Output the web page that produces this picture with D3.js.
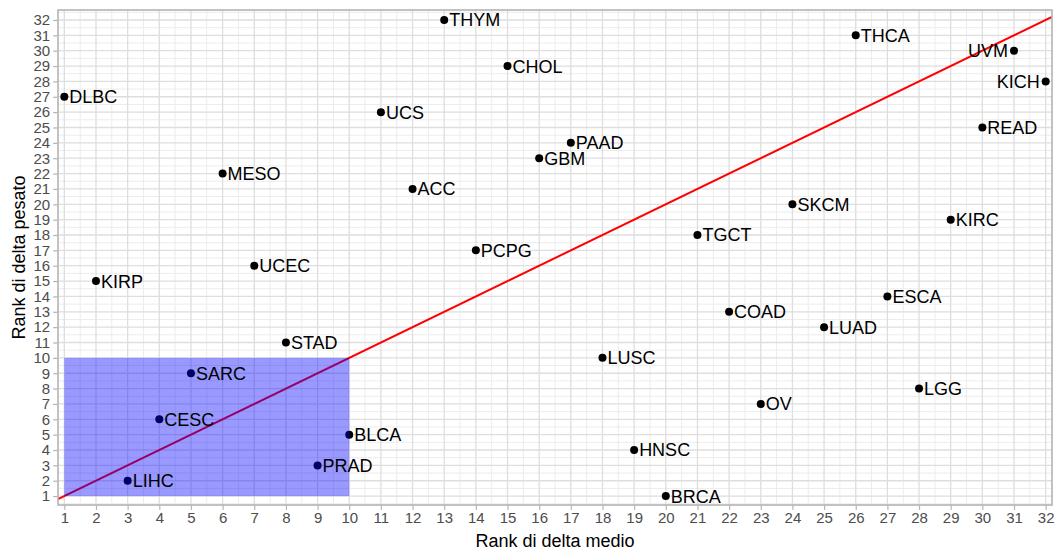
<!DOCTYPE html>
<html>
<head>
<meta charset="utf-8">
<script src="https://cdn.jsdelivr.net/npm/d3@7"></script>
<style>
  html, body { margin: 0; padding: 0; background: #fff; }
  svg { display: block; font-family: "Liberation Sans", Arial, Helvetica, sans-serif; }
</style>
</head>
<body>
<svg id="chart" width="1056" height="554"></svg>
<script>
// Tumour types ranked by mean delta (x) and weighted delta (y)
const tumours    = ["DLBC","KIRP","LIHC","CESC","SARC","MESO","UCEC","STAD","PRAD","BLCA",
                    "UCS","ACC","THYM","PCPG","CHOL","GBM","PAAD","LUSC","HNSC","BRCA",
                    "TGCT","COAD","OV","SKCM","LUAD","THCA","ESCA","LGG","KIRC","READ","UVM","KICH"];
const rankMedio  = [1,2,3,4,5,6,7,8,9,10,11,12,13,14,15,16,17,18,19,20,21,22,23,24,25,26,27,28,29,30,31,32];
const rankPesato = [27,15,2,6,9,22,16,11,3,5,26,21,32,17,29,23,24,10,4,1,18,13,7,20,12,31,14,8,19,25,30,28];
// Labels placed to the left of their point
const leftLabels = ["UVM","KICH"];
// Highlighted region (ranks 1..10 on both axes)
const boxX = [1, 10];
const boxY = [1, 10];
const ticks = d3.range(1, 33);

const svg = d3.select("#chart");
const panel = { left: 58, right: 1052, top: 10, bottom: 505 };

const x = d3.scaleLinear().domain([0.8, 32.2]).range([panel.left, panel.right]);
const y = d3.scaleLinear().domain([0.42, 32.65]).range([panel.bottom, panel.top]);

const g = svg.append("g");

// panel background
g.append("rect")
  .attr("x", panel.left).attr("y", panel.top)
  .attr("width", panel.right - panel.left).attr("height", panel.bottom - panel.top)
  .attr("fill", "#fff");

// minor grid (half steps)
const minor = d3.range(0.5, 33, 1);
g.selectAll(".gxm").data(minor.filter(v => x(v) > panel.left && x(v) < panel.right)).join("line")
  .attr("x1", d => x(d)).attr("x2", d => x(d))
  .attr("y1", panel.top).attr("y2", panel.bottom)
  .attr("stroke", "#ececec").attr("stroke-width", 1);
g.selectAll(".gym").data(minor.filter(v => y(v) < panel.bottom && y(v) > panel.top)).join("line")
  .attr("y1", d => y(d)).attr("y2", d => y(d))
  .attr("x1", panel.left).attr("x2", panel.right)
  .attr("stroke", "#ececec").attr("stroke-width", 1);

// major grid
g.selectAll(".gx").data(ticks).join("line")
  .attr("x1", d => x(d)).attr("x2", d => x(d))
  .attr("y1", panel.top).attr("y2", panel.bottom)
  .attr("stroke", "#dedede").attr("stroke-width", 1.3);
g.selectAll(".gy").data(ticks).join("line")
  .attr("y1", d => y(d)).attr("y2", d => y(d))
  .attr("x1", panel.left).attr("x2", panel.right)
  .attr("stroke", "#dedede").attr("stroke-width", 1.3);

// points
g.selectAll(".pt").data(tumours).join("circle")
  .attr("cx", (d, i) => x(rankMedio[i]))
  .attr("cy", (d, i) => y(rankPesato[i]))
  .attr("r", 4)
  .attr("fill", "#000");

// identity line y = x across the panel
const clip = svg.append("clipPath").attr("id", "panelClip")
  .append("rect")
  .attr("x", panel.left).attr("y", panel.top)
  .attr("width", panel.right - panel.left).attr("height", panel.bottom - panel.top);
const lineEnds = [0.8, 32.2];
g.append("line")
  .attr("clip-path", "url(#panelClip)")
  .attr("x1", x(lineEnds[0])).attr("y1", y(lineEnds[0]))
  .attr("x2", x(lineEnds[1])).attr("y2", y(lineEnds[1]))
  .attr("stroke", "#ff0000").attr("stroke-width", 2);

// highlighted box
g.append("rect")
  .attr("x", x(boxX[0])).attr("y", y(boxY[1]))
  .attr("width", x(boxX[1]) - x(boxX[0]))
  .attr("height", y(boxY[0]) - y(boxY[1]))
  .attr("fill", "blue").attr("fill-opacity", 0.4);

// labels, drawn above the box
g.selectAll(".lbl").data(tumours).join("text")
  .attr("x", (d, i) => x(rankMedio[i]) + (leftLabels.includes(d) ? -6 : 5))
  .attr("y", (d, i) => y(rankPesato[i]))
  .attr("dy", "0.36em")
  .attr("text-anchor", d => leftLabels.includes(d) ? "end" : "start")
  .attr("font-size", 18)
  .attr("fill", "#000")
  .text(d => d);

// panel border
g.append("rect")
  .attr("x", panel.left).attr("y", panel.top)
  .attr("width", panel.right - panel.left).attr("height", panel.bottom - panel.top)
  .attr("fill", "none").attr("stroke", "#b3b3b3").attr("stroke-width", 1.6);

// axes
const xAxis = svg.append("g")
  .attr("transform", `translate(0,${panel.bottom + 0.8})`)
  .call(d3.axisBottom(x).tickValues(ticks).tickSize(4).tickPadding(3).tickFormat(d3.format("d")));
const yAxis = svg.append("g")
  .attr("transform", `translate(${panel.left - 0.8},0)`)
  .call(d3.axisLeft(y).tickValues(ticks).tickSize(4).tickPadding(3).tickFormat(d3.format("d")));
[xAxis, yAxis].forEach(a => {
  a.select(".domain").remove();
  a.selectAll(".tick line").attr("stroke", "#b3b3b3").attr("stroke-width", 1.2);
  a.selectAll(".tick text").attr("fill", "#4d4d4d").attr("font-size", 15)
    .attr("font-family", "Liberation Sans, Arial, sans-serif");
});

// axis titles
svg.append("text")
  .attr("x", (panel.left + panel.right) / 2).attr("y", 547)
  .attr("text-anchor", "middle").attr("font-size", 18).attr("fill", "#000")
  .text("Rank di delta medio");
svg.append("text")
  .attr("transform", `translate(25,${(panel.top + panel.bottom) / 2}) rotate(-90)`)
  .attr("text-anchor", "middle").attr("font-size", 18).attr("fill", "#000")
  .text("Rank di delta pesato");
</script>
</body>
</html>
